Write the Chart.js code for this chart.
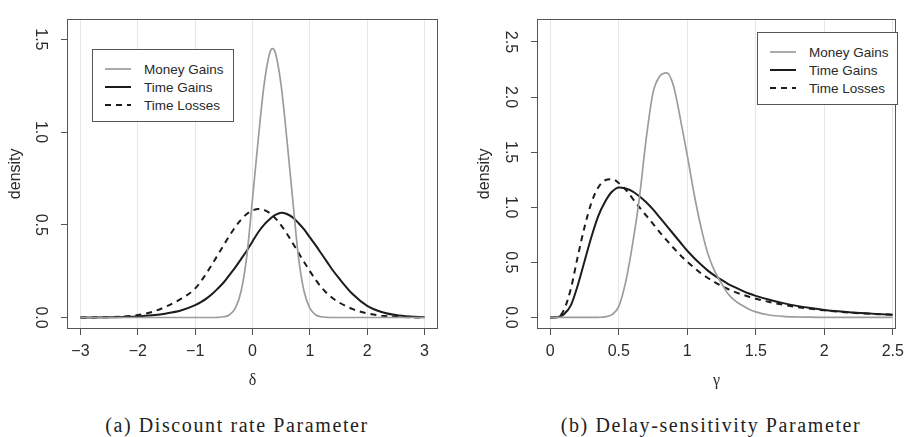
<!DOCTYPE html>
<html>
<head>
<meta charset="utf-8">
<script src="https://cdn.jsdelivr.net/npm/chart.js@4.4.1/dist/chart.umd.min.js"></script>
<style>
  html, body { margin: 0; padding: 0; background: #fff; }
  #page { position: relative; width: 911px; height: 437px; overflow: hidden; font-family: "Liberation Sans", Arial, sans-serif; }
  canvas { position: absolute; top: 0; }
  .legend { position: absolute; border: 1px solid #555; background: #fff; box-sizing: border-box; }
  .legend .row { position: absolute; height: 18px; display: flex; align-items: center; font-family: "Liberation Sans", Arial, sans-serif; font-size: 13.5px; color: #2a2a2a; white-space: nowrap; }
  .legend svg { margin-right: 13px; }
  .caption { position: absolute; top: 425px; font-family: "Liberation Serif", serif; font-size: 20px; letter-spacing: 1.6px; color: #222; transform: translate(-50%, -50%); white-space: nowrap; }
</style>
</head>
<body>
<div id="page">
  <canvas id="chartDelta" width="455" height="400" style="left:0"></canvas>
  <canvas id="chartGamma" width="456" height="400" style="left:455px"></canvas>
  <div class="legend" id="legendDelta" style="left:92px; top:49px; width:142px; height:73px"></div>
  <div class="legend" id="legendGamma" style="left:757px; top:32px; width:141px; height:73px"></div>
  <div class="caption" style="left:237px">(a) Discount rate Parameter</div>
  <div class="caption" style="left:711px">(b) Delay-sensitivity Parameter</div>
</div>
<script>
const seriesNames = ['Money Gains', 'Time Gains', 'Time Losses'];

// panel (a): discount rate delta
const deltaX = [-3, -2.5, -2.25, -2, -1.75, -1.5, -1.25, -1, -0.9, -0.8, -0.7, -0.6, -0.5, -0.4, -0.3, -0.2, -0.1, 0,
  0.1, 0.2, 0.3, 0.35, 0.4, 0.5, 0.6, 0.7, 0.8, 0.9, 1, 1.1, 1.2, 1.3, 1.4, 1.5, 1.75, 2, 2.25, 2.5, 2.75, 3];
const deltaMoney = [0, 0, 0, 0, 0, 0, 0, 0, 0, 0, 0, 0.001, 0.004, 0.015, 0.05, 0.14, 0.33, 0.64,
  0.96, 1.25, 1.426, 1.45, 1.426, 1.25, 0.96, 0.64, 0.33, 0.14, 0.05, 0.015, 0.004, 0.001, 0, 0, 0, 0, 0, 0, 0, 0];
const deltaTimeGains = [0, 0.001, 0.003, 0.006, 0.012, 0.022, 0.038, 0.067, 0.083, 0.103, 0.128, 0.158, 0.19, 0.23, 0.27, 0.315, 0.36, 0.41,
  0.46, 0.5, 0.53, 0.543, 0.553, 0.565, 0.558, 0.54, 0.51, 0.475, 0.432, 0.39, 0.345, 0.3, 0.255, 0.215, 0.125, 0.063, 0.03, 0.013, 0.005, 0.002];
const deltaTimeLosses = [0, 0.002, 0.005, 0.013, 0.03, 0.06, 0.1, 0.156, 0.195, 0.24, 0.289, 0.34, 0.392, 0.442, 0.488, 0.528, 0.558, 0.577,
  0.585, 0.58, 0.563, 0.55, 0.535, 0.497, 0.452, 0.402, 0.35, 0.299, 0.25, 0.204, 0.163, 0.13, 0.104, 0.083, 0.045, 0.022, 0.01, 0.004, 0.001, 0];
const deltaXTicks = [-3, -2, -1, 0, 1, 2, 3];
const deltaYTicks = [0, 0.5, 1, 1.5];

// panel (b): delay sensitivity gamma
const gammaX = [0, 0.05, 0.1, 0.15, 0.2, 0.25, 0.3, 0.35, 0.4, 0.45, 0.5, 0.55, 0.6, 0.65, 0.7, 0.75, 0.8, 0.85, 0.9, 0.95, 1,
  1.05, 1.1, 1.15, 1.2, 1.25, 1.3, 1.35, 1.4, 1.45, 1.5, 1.6, 1.7, 1.8, 1.9, 2, 2.1, 2.2, 2.3, 2.4, 2.5];
const gammaMoney = [0, 0, 0, 0, 0, 0, 0, 0.001, 0.005, 0.025, 0.1, 0.32, 0.66, 1.08, 1.62, 2.04, 2.19, 2.22, 2.1, 1.8, 1.47,
  1.12, 0.82, 0.58, 0.42, 0.31, 0.21, 0.15, 0.11, 0.075, 0.05, 0.022, 0.009, 0.004, 0.002, 0.001, 0, 0, 0, 0, 0];
const gammaTimeGains = [0, 0.001, 0.03, 0.11, 0.29, 0.51, 0.73, 0.92, 1.05, 1.14, 1.18, 1.17, 1.145, 1.1, 1.045, 0.98, 0.905, 0.83, 0.755, 0.68, 0.605,
  0.54, 0.48, 0.425, 0.38, 0.34, 0.303, 0.272, 0.243, 0.217, 0.196, 0.16, 0.13, 0.105, 0.085, 0.068, 0.055, 0.045, 0.037, 0.03, 0.025];
const gammaTimeLosses = [0, 0.002, 0.07, 0.26, 0.55, 0.82, 1.04, 1.18, 1.245, 1.255, 1.22, 1.16, 1.08, 1, 0.925, 0.85, 0.772, 0.7, 0.63, 0.565, 0.505,
  0.45, 0.4, 0.358, 0.32, 0.286, 0.256, 0.23, 0.208, 0.188, 0.17, 0.14, 0.115, 0.095, 0.078, 0.064, 0.052, 0.043, 0.035, 0.029, 0.024];
const gammaXTicks = [0, 0.5, 1, 1.5, 2, 2.5];
const gammaYTicks = [0, 0.5, 1, 1.5, 2, 2.5];

const lineStyles = [
  { color: '#9c9c9c', width: 1.7, dash: [] },
  { color: '#1c1c1c', width: 2, dash: [] },
  { color: '#1c1c1c', width: 2, dash: [6, 5] }
];

Chart.defaults.font.family = '"Liberation Sans", Arial, sans-serif';
Chart.defaults.font.size = 16;
Chart.defaults.color = '#2a2a2a';

// R style box around the plot region
const boxPlugin = {
  id: 'box',
  afterDatasetsDraw(chart) {
    const { ctx, chartArea: a } = chart;
    ctx.save();
    ctx.strokeStyle = '#555';
    ctx.lineWidth = 1;
    ctx.strokeRect(Math.round(a.left) + 0.5, Math.round(a.top) + 0.5,
      Math.round(a.right - a.left) - 1, Math.round(a.bottom - a.top) - 1);
    ctx.restore();
  }
};

function fmtMinus(s) {
  return String(s).replace('-', '\u2212');
}

function makePanel(id, cfg) {
  const ctx = document.getElementById(id).getContext('2d');
  const series = [cfg.money, cfg.gains, cfg.losses];
  return new Chart(ctx, {
    type: 'line',
    data: {
      datasets: series.map((ys, k) => ({
        label: seriesNames[k],
        data: cfg.xs.map((x, i) => ({ x: x, y: ys[i] })),
        borderColor: lineStyles[k].color,
        borderWidth: lineStyles[k].width,
        borderDash: lineStyles[k].dash,
        pointRadius: 0,
        cubicInterpolationMode: 'monotone',
        fill: false
      }))
    },
    options: {
      responsive: false,
      animation: false,
      devicePixelRatio: 1,
      layout: { padding: cfg.padding },
      scales: {
        x: {
          type: 'linear',
          min: cfg.xMin,
          max: cfg.xMax,
          afterBuildTicks: s => { s.ticks = cfg.xTicks.map(v => ({ value: v })); },
          afterFit: s => { s.height = 71; },
          ticks: {
            autoSkip: false,
            maxRotation: 0,
            padding: 7,
            callback: v => fmtMinus(v)
          },
          grid: { color: '#e6e6e6', tickColor: '#555', tickLength: 6 },
          border: { display: false },
          title: {
            display: true,
            text: cfg.xTitle,
            font: { family: '"Liberation Serif", serif', size: 16 },
            padding: { top: 0, bottom: 10 }
          }
        },
        y: {
          min: cfg.yMin,
          max: cfg.yMax,
          afterBuildTicks: s => { s.ticks = cfg.yTicks.map(v => ({ value: v })); },
          afterFit: s => { s.width = cfg.yWidth; },
          ticks: {
            minRotation: -90,
            maxRotation: 0,
            crossAlign: 'center',
            padding: 9,
            callback: v => v.toFixed(1)
          },
          grid: { drawOnChartArea: false, tickColor: '#555', tickLength: 6 },
          border: { display: false },
          title: {
            display: true,
            text: 'density',
            padding: { top: 6, bottom: 0 }
          }
        }
      },
      plugins: {
        legend: { display: false },
        tooltip: { enabled: false }
      }
    },
    plugins: [boxPlugin]
  });
}

function buildLegend(id, chart) {
  const box = document.getElementById(id);
  chart.data.datasets.forEach((ds, k) => {
    const row = document.createElement('div');
    row.className = 'row';
    row.style.left = '12px';
    row.style.top = (10 + k * 18) + 'px';
    const dash = ds.borderDash.length ? ' stroke-dasharray="' + ds.borderDash.join(' ') + '"' : '';
    row.innerHTML = '<svg width="26" height="4"><line x1="0" y1="2" x2="26" y2="2" stroke="' + ds.borderColor +
      '" stroke-width="' + ds.borderWidth + '"' + dash + '/></svg><span>' + ds.label + '</span>';
    box.appendChild(row);
  });
}

const deltaChart = makePanel('chartDelta', {
  xs: deltaX, money: deltaMoney, gains: deltaTimeGains, losses: deltaTimeLosses,
  xMin: -3.235, xMax: 3.235, yMin: -0.062, yMax: 1.612,
  xTicks: deltaXTicks, yTicks: deltaYTicks, xTitle: '\u03b4',
  padding: { left: 0, right: 17, top: 8, bottom: 0 }, yWidth: 67
});

const gammaChart = makePanel('chartGamma', {
  xs: gammaX, money: gammaMoney, gains: gammaTimeGains, losses: gammaTimeLosses,
  xMin: -0.097, xMax: 2.525, yMin: -0.105, yMax: 2.712,
  xTicks: gammaXTicks, yTicks: gammaYTicks, xTitle: '\u03b3',
  padding: { left: 14, right: 13, top: 8, bottom: 0 }, yWidth: 68
});

buildLegend('legendDelta', deltaChart);
buildLegend('legendGamma', gammaChart);
</script>
</body>
</html>
